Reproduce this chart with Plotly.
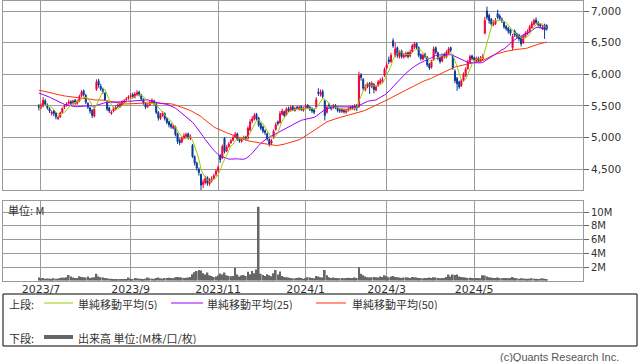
import pandas as pd
import plotly.graph_objects as go

# ---------------- data ----------------
# closes of the 49 sessions before the visible window (only used for the moving averages)
pre_closes = [5800, 5850, 5880, 5900, 5860, 5820, 5800, 5830, 5790, 5810,
              5780, 5750, 5765, 5750, 5740, 5760, 5730, 5780, 5800, 5760, 5740, 5780, 5790, 5780, 5780,
              5800, 5820, 5850, 5880, 5860, 5830, 5800, 5790, 5820, 5800, 5780, 5790, 5770, 5760, 5755,
              5700, 5660, 5620, 5600, 5560, 5530, 5500, 5480, 5440]

opens = [5500, 5470, 5490, 5580, 5520, 5460, 5380, 5420, 5390, 5300,
         5330, 5400, 5480, 5510, 5540, 5570, 5540, 5590, 5540, 5580,
         5660, 5740, 5670, 5540, 5470, 5430, 5340, 5760, 5900, 5810,
         5760, 5700, 5560, 5470, 5380, 5420, 5450, 5510, 5490, 5520,
         5560, 5600, 5620, 5650, 5680, 5640, 5680, 5720, 5670, 5600,
         5540, 5490, 5520, 5560, 5580, 5530, 5400, 5300, 5350, 5380,
         5300, 5250, 5210, 5150, 5170, 5060, 4960, 4930, 4990, 5020,
         5060, 4990, 4880, 4700, 4600, 4500, 4420, 4260, 4290, 4370,
         4270, 4320, 4360, 4420, 4480, 4720, 4680, 4990, 4790, 4860,
         4920, 4960, 5010, 5060, 4990, 4940, 4980, 5010, 4990, 5120,
         5260, 5290, 5370, 5310, 5220, 5170, 5110, 5060, 4970, 4910,
         5000, 5130, 5250, 5240, 5370, 5410, 5360, 5460, 5430, 5490,
         5430, 5480, 5450, 5490, 5430, 5470, 5510, 5480, 5460, 5440,
         5480, 5720, 5680, 5730, 5580, 5400, 5520, 5490, 5470, 5510,
         5470, 5440, 5410, 5440, 5400, 5430, 5450, 5490, 5450, 5510,
         5490, 5990, 5920, 5760, 5800, 5860, 5800, 5840, 5750, 5820,
         5860, 5890, 5980, 6100, 6230, 6200, 6530, 6300, 6420, 6280,
         6370, 6270, 6290, 6340, 6290, 6360, 6430, 6490, 6420, 6310,
         6240, 6320, 6270, 6160, 6110, 6230, 6420, 6340, 6260, 6210,
         6310, 6270, 6330, 6420, 6300, 6050, 5940, 5880, 5820, 5910,
         5980, 6090, 6200, 6290, 6260, 6210, 6260, 6210, 6240, 6650,
         7000, 6930, 6870, 6780, 6800, 6960, 6920, 6870, 6820, 6760,
         6730, 6700, 6420, 6680, 6640, 6620, 6580, 6500, 6590, 6640,
         6680, 6740, 6790, 6860, 6810, 6790, 6720, 6780, 6770]

highs = [5530, 5540, 5640, 5610, 5540, 5480, 5430, 5440, 5400, 5350,
         5410, 5480, 5530, 5560, 5600, 5590, 5600, 5610, 5600, 5680,
         5750, 5760, 5690, 5560, 5490, 5450, 5480, 5920, 5930, 5850,
         5790, 5720, 5580, 5490, 5430, 5490, 5510, 5540, 5560, 5590,
         5610, 5640, 5670, 5700, 5710, 5720, 5750, 5740, 5690, 5620,
         5560, 5540, 5590, 5620, 5600, 5550, 5420, 5390, 5420, 5400,
         5320, 5270, 5230, 5210, 5190, 5080, 4990, 5020, 5070, 5080,
         5080, 5050, 4900, 4720, 4620, 4530, 4430, 4340, 4400, 4390,
         4360, 4390, 4430, 4500, 4560, 4740, 4890, 5010, 4880, 4930,
         4980, 5030, 5090, 5080, 5010, 5000, 5030, 5030, 5180, 5290,
         5340, 5390, 5390, 5330, 5240, 5190, 5130, 5080, 4990, 4980,
         5130, 5240, 5270, 5420, 5460, 5430, 5480, 5490, 5510, 5510,
         5490, 5500, 5510, 5510, 5490, 5530, 5530, 5500, 5480, 5460,
         5640, 5780, 5760, 5760, 5600, 5510, 5550, 5510, 5530, 5530,
         5490, 5460, 5470, 5460, 5460, 5480, 5500, 5510, 5530, 5530,
         6040, 6020, 5940, 5840, 5880, 5880, 5890, 5860, 5830, 5910,
         5940, 5960, 6110, 6190, 6280, 6340, 6570, 6500, 6440, 6380,
         6390, 6340, 6360, 6360, 6390, 6480, 6510, 6500, 6440, 6330,
         6330, 6340, 6290, 6180, 6230, 6440, 6440, 6360, 6280, 6330,
         6340, 6380, 6430, 6440, 6320, 6080, 5960, 5900, 5930, 6030,
         6110, 6230, 6310, 6310, 6280, 6280, 6280, 6290, 6320, 6910,
         7070, 6960, 6890, 6860, 6890, 7020, 6950, 6900, 6840, 6780,
         6750, 6720, 6640, 6710, 6660, 6640, 6600, 6630, 6680, 6710,
         6780, 6840, 6880, 6900, 6840, 6810, 6780, 6800, 6790]

lows = [5430, 5450, 5480, 5500, 5440, 5390, 5350, 5340, 5290, 5280,
        5310, 5380, 5450, 5490, 5520, 5510, 5520, 5520, 5520, 5560,
        5640, 5650, 5530, 5450, 5380, 5310, 5320, 5740, 5790, 5740,
        5690, 5580, 5420, 5390, 5360, 5400, 5430, 5470, 5470, 5500,
        5540, 5570, 5600, 5620, 5620, 5620, 5660, 5650, 5580, 5520,
        5450, 5470, 5500, 5540, 5510, 5370, 5270, 5280, 5330, 5270,
        5210, 5160, 5140, 5130, 5020, 4900, 4880, 4910, 4970, 5000,
        4970, 4960, 4680, 4560, 4480, 4400, 4170, 4200, 4260, 4240,
        4240, 4290, 4330, 4390, 4450, 4600, 4660, 4750, 4770, 4840,
        4900, 4940, 4990, 4950, 4920, 4920, 4960, 4950, 4970, 5100,
        5230, 5270, 5270, 5170, 5120, 5070, 5040, 4950, 4860, 4880,
        4980, 5110, 5190, 5220, 5350, 5320, 5340, 5400, 5410, 5420,
        5410, 5440, 5430, 5420, 5410, 5450, 5450, 5420, 5390, 5370,
        5460, 5660, 5650, 5620, 5270, 5380, 5470, 5430, 5450, 5450,
        5400, 5390, 5390, 5380, 5380, 5410, 5430, 5440, 5430, 5420,
        5470, 5900, 5740, 5730, 5780, 5690, 5780, 5700, 5730, 5800,
        5840, 5870, 5960, 6080, 6160, 6180, 6420, 6270, 6260, 6250,
        6250, 6250, 6270, 6250, 6270, 6340, 6400, 6390, 6270, 6220,
        6220, 6250, 6120, 6070, 6090, 6210, 6320, 6220, 6170, 6190,
        6250, 6250, 6310, 6350, 6070, 5860, 5740, 5770, 5800, 5890,
        5960, 6070, 6180, 6220, 6200, 6190, 6190, 6190, 6220, 6630,
        6860, 6800, 6760, 6760, 6780, 6870, 6850, 6810, 6720, 6690,
        6640, 6610, 6380, 6590, 6560, 6520, 6440, 6480, 6570, 6620,
        6660, 6720, 6770, 6790, 6750, 6730, 6700, 6560, 6690]

closes = [5480, 5510, 5590, 5530, 5470, 5420, 5400, 5380, 5330, 5320,
          5390, 5460, 5500, 5530, 5560, 5540, 5580, 5550, 5570, 5650,
          5720, 5680, 5560, 5480, 5420, 5350, 5450, 5880, 5830, 5770,
          5720, 5600, 5450, 5420, 5400, 5460, 5480, 5500, 5530, 5560,
          5580, 5610, 5640, 5660, 5650, 5690, 5710, 5680, 5610, 5550,
          5480, 5510, 5560, 5590, 5540, 5400, 5310, 5360, 5390, 5300,
          5240, 5200, 5170, 5180, 5050, 4940, 4920, 4990, 5030, 5050,
          5000, 5020, 4700, 4600, 4520, 4450, 4250, 4300, 4360, 4280,
          4330, 4350, 4400, 4470, 4530, 4650, 4860, 4780, 4850, 4900,
          4950, 5000, 5050, 4980, 4950, 4970, 5000, 4980, 5150, 5250,
          5300, 5350, 5300, 5200, 5150, 5100, 5080, 4980, 4900, 4950,
          5100, 5200, 5220, 5380, 5420, 5350, 5450, 5420, 5480, 5440,
          5460, 5460, 5480, 5440, 5460, 5500, 5470, 5450, 5420, 5400,
          5600, 5700, 5720, 5650, 5350, 5480, 5500, 5460, 5500, 5480,
          5430, 5420, 5450, 5410, 5440, 5450, 5480, 5460, 5500, 5470,
          5980, 5950, 5780, 5800, 5850, 5820, 5860, 5760, 5800, 5880,
          5900, 5920, 6080, 6150, 6200, 6300, 6450, 6400, 6300, 6350,
          6280, 6300, 6330, 6280, 6350, 6450, 6480, 6420, 6300, 6250,
          6300, 6280, 6150, 6100, 6200, 6400, 6350, 6250, 6200, 6300,
          6280, 6350, 6400, 6380, 6100, 5900, 5850, 5800, 5900, 6000,
          6080, 6200, 6280, 6250, 6230, 6250, 6220, 6260, 6280, 6850,
          6900, 6850, 6800, 6820, 6850, 6900, 6880, 6850, 6750, 6720,
          6680, 6650, 6600, 6620, 6600, 6560, 6480, 6600, 6650, 6680,
          6750, 6800, 6850, 6820, 6780, 6760, 6740, 6700, 6720]

volume_m = [0.45, 0.35, 0.40, 0.30, 0.32, 0.30, 0.28, 0.35, 0.30, 0.33,
            0.40, 0.45, 0.42, 0.50, 0.85, 0.60, 0.45, 0.40, 0.38, 0.65,
            0.55, 0.50, 0.45, 0.60, 0.40, 0.45, 0.50, 1.00, 0.60, 0.50,
            0.45, 0.40, 0.35, 0.30, 0.28, 0.25, 0.22, 0.20, 0.20, 0.18,
            0.20, 0.25, 0.45, 0.30, 0.25, 0.40, 0.35, 0.30, 0.28, 0.25,
            0.30, 0.45, 0.35, 0.30, 0.28, 0.40, 0.45, 0.35, 0.30, 0.38,
            0.40, 0.42, 0.38, 0.35, 0.50, 0.55, 0.50, 0.45, 0.40, 0.42,
            0.45, 0.55, 0.95, 1.25, 1.40, 1.55, 1.50, 1.10, 0.90, 1.20,
            0.80, 0.70, 0.55, 0.60, 0.75, 1.05, 0.90, 1.20, 0.80, 0.70,
            0.65, 0.70, 1.90, 0.90, 0.60, 0.75, 0.85, 0.70, 1.30, 0.95,
            1.40, 1.10, 1.65, 10.80, 1.00, 0.85, 0.70, 0.95, 0.80, 0.65,
            1.10, 1.55, 0.90, 1.35, 0.70, 0.55, 0.50, 0.45, 0.40, 0.35,
            0.35, 0.40, 0.45, 0.38, 0.30, 0.35, 0.50, 0.45, 0.40, 0.35,
            0.70, 0.60, 0.50, 0.45, 1.55, 0.80, 0.50, 0.40, 0.45, 0.40,
            0.40, 0.35, 0.38, 0.35, 0.40, 0.42, 0.38, 0.40, 0.45, 0.40,
            1.95, 1.00, 0.80, 0.60, 0.50, 0.45, 0.50, 0.55, 0.50, 0.45,
            0.60, 0.55, 0.80, 0.65, 0.50, 0.60, 0.70, 0.55, 0.50, 0.45,
            0.40, 0.45, 0.50, 0.45, 0.40, 0.55, 0.50, 0.45, 0.40, 0.38,
            0.35, 0.38, 0.40, 0.45, 0.40, 0.50, 0.45, 0.40, 0.35, 0.38,
            0.40, 0.55, 0.90, 0.60, 0.90, 0.85, 0.90, 0.60, 0.55, 0.50,
            0.45, 0.40, 0.42, 0.38, 0.35, 0.40, 0.38, 0.35, 0.80, 0.75,
            0.60, 0.50, 0.45, 0.40, 0.38, 0.45, 0.40, 0.35, 0.38, 0.40,
            0.35, 0.38, 0.55, 0.40, 0.35, 0.30, 0.35, 0.32, 0.30, 0.28,
            0.30, 0.35, 0.30, 0.28, 0.25, 0.30, 0.35, 0.30, 0.25]

month_ticks = ["2023-07", "2023-09", "2023-11", "2024-01", "2024-03", "2024-05"]
tick_labels = ["2023/7", "2023/9", "2023/11", "2024/1", "2024/3", "2024/5"]
jp_holidays = ["2023-07-17", "2023-08-11", "2023-09-18", "2023-10-09", "2023-11-03",
               "2023-11-23", "2024-01-01", "2024-01-02", "2024-01-03", "2024-01-08",
               "2024-02-12", "2024-02-23", "2024-03-20", "2024-04-29", "2024-05-03",
               "2024-05-06"]

n = len(closes)
assert len(opens) == n and len(highs) == n and len(lows) == n and len(volume_m) == n, \
    (len(opens), len(highs), len(lows), len(closes), len(volume_m))

days = pd.bdate_range("2023-06-30", "2024-08-30")
days = days[~days.isin(pd.to_datetime(jp_holidays))][:n]
xs = list(range(n))
tickvals = [int((days >= pd.Timestamp(m + "-01")).argmax()) for m in month_ticks]

allc = pd.Series(pre_closes + closes, dtype=float)
k = len(pre_closes)
sma5 = allc.rolling(5).mean().iloc[k:].tolist()
sma25 = allc.rolling(25).mean().iloc[k:].tolist()
sma50 = allc.rolling(50).mean().iloc[k:].tolist()

# ---------------- styles ----------------
W, H = 638, 362
RED = "#f0003c"
BLUE = "#0a3a96"
C5, C25, C50 = "#99cc00", "#9900ff", "#ff3300"
GRID = "#9a9a9a"
TXT = "#333333"
JP = "Noto Sans CJK JP"

def px(x):
    return x / W

def py(y):
    return 1 - y / H

x0p, x1p = 3, 583
xrange_ = [-16.8, 255.0]

fig = go.Figure()
fig.add_trace(go.Candlestick(
    x=xs, open=opens, high=highs, low=lows, close=closes,
    increasing=dict(line=dict(color=RED, width=1), fillcolor=RED),
    decreasing=dict(line=dict(color=BLUE, width=1), fillcolor=BLUE),
    whiskerwidth=0, showlegend=False, xaxis="x", yaxis="y"))
for s, c in [(sma50, C50), (sma25, C25), (sma5, C5)]:
    fig.add_trace(go.Scatter(x=xs, y=s, mode="lines", line=dict(color=c, width=1),
                             showlegend=False, xaxis="x", yaxis="y"))
fig.add_trace(go.Bar(x=xs, y=volume_m, marker=dict(color="#666666", line=dict(width=0)),
                     showlegend=False, xaxis="x2", yaxis="y2"))

axis_common = dict(showgrid=True, gridcolor=GRID, gridwidth=1, showline=True, mirror=True,
                   linecolor=GRID, linewidth=1, zeroline=False)

fig.update_layout(
    width=W, height=H, margin=dict(l=0, r=0, t=0, b=0, autoexpand=False),
    paper_bgcolor="white", plot_bgcolor="white",
    font=dict(family="DejaVu Sans", size=10, color=TXT),
    bargap=0.2,
    xaxis=dict(domain=[px(x0p), px(x1p)], range=xrange_, tickvals=tickvals,
               showticklabels=False, ticks="", rangeslider=dict(visible=False),
               anchor="y", **axis_common),
    yaxis=dict(domain=[py(190), py(0.7)], range=[4173, 7163], side="right",
               tickvals=[4500, 5000, 5500, 6000, 6500, 7000], tickformat=",d",
               ticks="outside", ticklen=5, tickcolor="#666666",
               tickfont=dict(size=10.5, color=TXT), anchor="x", **axis_common),
    xaxis2=dict(domain=[px(x0p), px(x1p)], range=xrange_, tickvals=tickvals,
                ticktext=tick_labels, showticklabels=True, ticks="",
                ticklabelstandoff=-2,
                tickfont=dict(size=11, color=TXT), anchor="y2", **axis_common),
    yaxis2=dict(domain=[py(280.7), py(201)], range=[0, 11.65], side="right",
                tickvals=[2, 4, 6, 8, 10], ticktext=["2M", "4M", "6M", "8M", "10M"],
                ticks="outside", ticklen=5, tickcolor="#666666",
                tickfont=dict(size=10, color=TXT), anchor="x2", **axis_common),
)

shapes = [dict(type="rect", xref="paper", yref="paper", x0=px(3), x1=px(637),
               y0=py(346), y1=py(294), line=dict(color="black", width=1))]
for (a, b, yy, c, w) in [(44, 73, 303, C5, 1), (171, 203, 303, C25, 1),
                         (316, 346, 303, C50, 1), (44, 73, 337, "#666666", 4)]:
    shapes.append(dict(type="line", xref="paper", yref="paper", x0=px(a), x1=px(b),
                       y0=py(yy), y1=py(yy), line=dict(color=c, width=w)))
fig.update_layout(shapes=shapes)

def note(x, y, text, size=11, anchor="left", family=JP, color=TXT):
    fig.add_annotation(x=px(x), y=py(y), xref="paper", yref="paper", text=text,
                       showarrow=False, xanchor=anchor, yanchor="middle",
                       height=13, borderpad=0,
                       font=dict(family=family, size=size, color=color))

note(7, 209, "単位: M")
note(8, 303.5, "上段:")
note(77, 303.5, "単純移動平均(5)")
note(206, 303.5, "単純移動平均(25)")
note(351, 303.5, "単純移動平均(50)")
note(8, 337, "下段:")
note(77, 337, "出来高 単位:(M株/口/枚)")
note(620, 356, "(c)Quants Research Inc.", size=11, anchor="right",
     family="Liberation Sans", color="#555555")

fig.write_html("out.html",
               config={"displayModeBar": False},
               post_script="document.body.style.margin='0';document.body.style.overflow='hidden';")
